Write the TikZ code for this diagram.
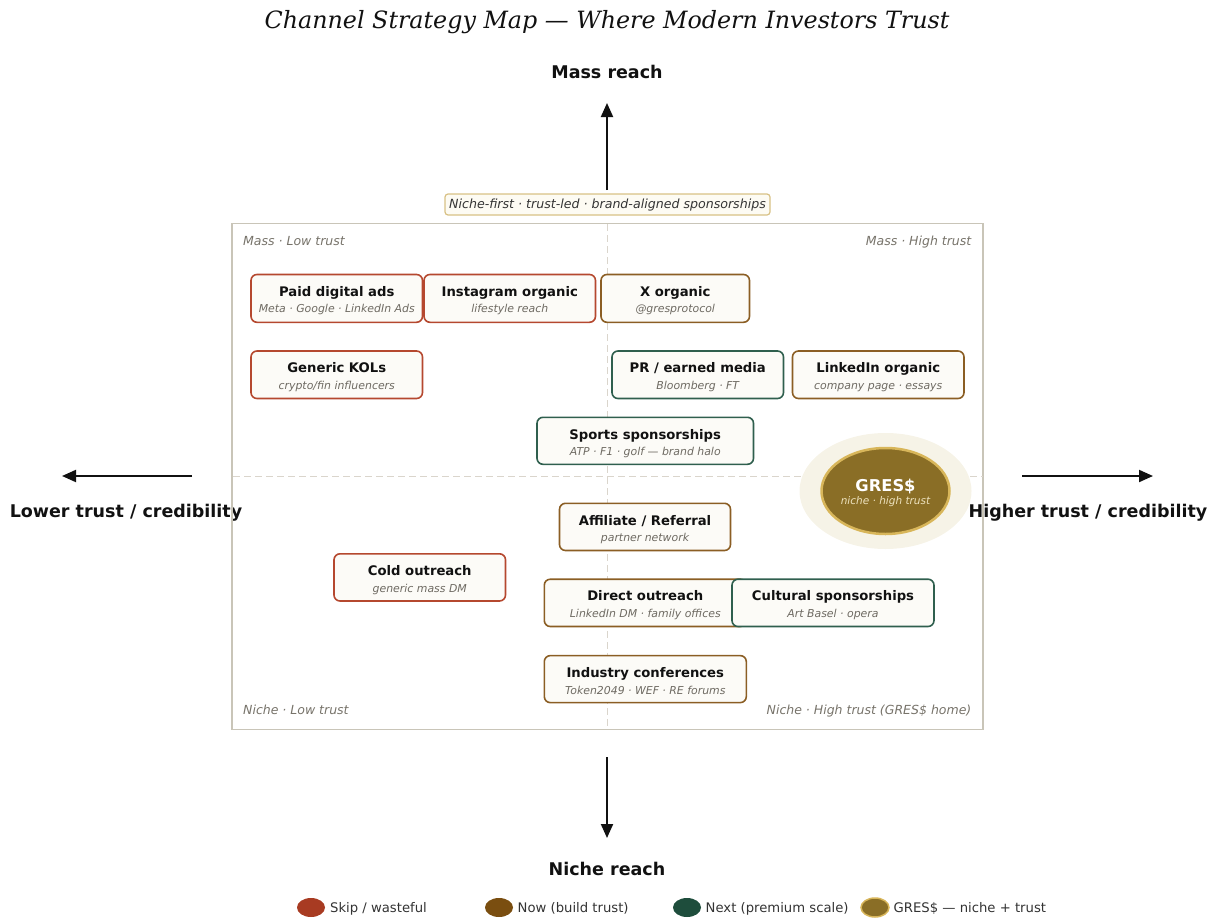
\documentclass[tikz,border=0pt]{standalone}
\usepackage{fontspec}
\setmainfont{DejaVu Sans}
\newfontfamily\titleserif{DejaVu Serif}
\usetikzlibrary{arrows.meta,shapes.geometric}

\definecolor{ink}{HTML}{111111}
\definecolor{subgray}{HTML}{6E6A62}
\definecolor{cornergray}{HTML}{77736A}
\definecolor{framec}{HTML}{C9C5B8}
\definecolor{gridline}{HTML}{DAD5CC}
\definecolor{boxfill}{HTML}{FCFBF7}
\definecolor{skipline}{HTML}{B5482F}
\definecolor{nowline}{HTML}{8B5E24}
\definecolor{nextline}{HTML}{2F5F4E}
\definecolor{skipdot}{HTML}{A83B22}
\definecolor{nowdot}{HTML}{7A4E10}
\definecolor{nextdot}{HTML}{1E4D3C}
\definecolor{gresfill}{HTML}{8A6E26}
\definecolor{gresrim}{HTML}{D8B65A}
\definecolor{gressub}{HTML}{EDE2BE}
\definecolor{halo}{HTML}{F6F3E7}
\definecolor{tagline}{HTML}{D8C185}
\definecolor{tagfill}{HTML}{FDFBF3}
\definecolor{legtext}{HTML}{333333}

\tikzset{
  chanbox/.style={draw, line width=1.6pt, fill=boxfill, rounded corners=6pt, inner sep=0pt},
  chantitle/.style={anchor=base, inner sep=0pt, font=\fontsize{13.2}{15}\selectfont\bfseries, text=ink},
  chansub/.style={anchor=base, inner sep=0pt, font=\fontsize{10.9}{13}\selectfont\itshape, text=subgray},
  axisarrow/.style={-{Triangle[length=14pt,width=12pt]}, line width=2pt, draw=ink},
  axislabel/.style={anchor=base, inner sep=0pt, font=\fontsize{17.5}{20}\selectfont\bfseries, text=ink},
  corner/.style={inner sep=0pt, font=\fontsize{12.5}{15}\selectfont\itshape, text=cornergray},
  gridrule/.style={draw=gridline, line width=1pt, dash pattern=on 7pt off 4pt},
  legdot/.style={ellipse, minimum width=28pt, minimum height=19pt, inner sep=0pt},
  legtxt/.style={anchor=base west, inner sep=0pt, font=\fontsize{13.2}{15}\selectfont, text=legtext},
}

% channel card: name, x1, y1, x2, y2, border colour, title, subtitle
\newcommand\chan[8]{%
  \pgfmathsetmacro\chanx{(#2+#4)/2}%
  \pgfmathsetmacro\chany{(#3+#5)/2}%
  \pgfmathsetmacro\chanw{#4-#2}%
  \pgfmathsetmacro\chanh{#5-#3}%
  \node[chanbox, draw=#6, minimum width=\chanw pt, minimum height=\chanh pt] (#1) at (\chanx,\chany) {};
  \node[chantitle] (#1-t) at (\chanx,{#3+21.7}) {#7};
  \node[chansub] (#1-s) at (\chanx,{#3+38.4}) {#8};
}

\begin{document}
\begin{tikzpicture}[x=1pt,y=-1pt]
\useasboundingbox (0,0) rectangle (1216,918);

% title
\node[anchor=base, inner sep=0pt, font=\titleserif\itshape\fontsize{23.8}{27}\selectfont, text=ink]
  (title) at (607,28) {Channel Strategy Map — Where Modern Investors Trust};

% axis labels and arrows
\node[axislabel] (mass) at (607,78) {Mass reach};
\node[axislabel] (niche) at (607,875) {Niche reach};
\node[axislabel] (lower) at (126,517.7) {Lower trust / credibility};
\node[axislabel] (higher) at (1088,517.7) {Higher trust / credibility};

\coordinate (upS) at (607,190);   \coordinate (upE) at (607,103);
\coordinate (dnS) at (607,757);   \coordinate (dnE) at (607,838);
\coordinate (lfS) at (192,476);   \coordinate (lfE) at (62,476);
\coordinate (rtS) at (1022,476);  \coordinate (rtE) at (1153,476);
\draw[axisarrow] (upS) -- (upE);
\draw[axisarrow] (dnS) -- (dnE);
\draw[axisarrow] (lfS) -- (lfE);
\draw[axisarrow] (rtS) -- (rtE);

% strategy tag
\node[draw=tagline, fill=tagfill, line width=1.2pt, rounded corners=3pt, minimum width=325pt,
      minimum height=21pt, inner sep=0pt] (tag) at (607.5,204.5) {};
\node[anchor=base, inner sep=0pt, font=\fontsize{12.6}{14}\selectfont\itshape, text=ink!85]
  (tag-t) at (607.5,208.6) {Niche-first · trust-led · brand-aligned sponsorships};

% quadrant frame and dividers
\node[draw=framec, line width=1.6pt, minimum width=751pt, minimum height=506pt, inner sep=0pt]
  (frame) at (607.5,476.5) {};
\coordinate (vT) at (607.5,224); \coordinate (vB) at (607.5,729);
\coordinate (hL) at (233,476);   \coordinate (hR) at (983,476);
\draw[gridrule] (vT) -- (vB);
\draw[gridrule] (hL) -- (hR);

% quadrant captions
\node[corner, anchor=base west] (ql) at (243,245) {Mass · Low trust};
\node[corner, anchor=base east] (qr) at (971.5,245) {Mass · High trust};
\node[corner, anchor=base west] (bl) at (243,714) {Niche · Low trust};
\node[corner, anchor=base east] (br) at (971.5,714) {Niche · High trust (GRES\$ home)};

% GRES$ marker
\node[ellipse, fill=halo, minimum width=172pt, minimum height=116pt, inner sep=0pt] (gresHalo) at (885.5,491) {};
\node[ellipse, fill=gresfill, draw=gresrim, line width=2.5pt, minimum width=128pt, minimum height=86pt, inner sep=0pt]
  (gres) at (885.5,491) {};
\node[anchor=base, inner sep=0pt, font=\fontsize{16.3}{18}\selectfont\bfseries, text=white] (gres-t) at (885.5,491.5) {GRES\$};
\node[anchor=base, inner sep=0pt, font=\fontsize{10.5}{12}\selectfont\itshape, text=gressub] (gres-s) at (885.5,504.5) {niche · high trust};

% channel cards
\chan{paid}{251}{274.5}{422.5}{322.3}{skipline}{Paid digital ads}{Meta · Google · LinkedIn Ads}
\chan{insta}{424}{274.5}{595.5}{322.3}{skipline}{Instagram organic}{lifestyle reach}
\chan{xorg}{601}{274.5}{749.5}{322.3}{nowline}{X organic}{@gresprotocol}
\chan{kols}{251}{351}{422.5}{398.5}{skipline}{Generic KOLs}{crypto/fin influencers}
\chan{pr}{612}{351}{783.5}{398.5}{nextline}{PR / earned media}{Bloomberg · FT}
\chan{linkedin}{792.5}{351}{964}{398.5}{nowline}{LinkedIn organic}{company page · essays}
\chan{sports}{537}{417.3}{753.5}{464.3}{nextline}{Sports sponsorships}{ATP · F1 · golf — brand halo}
\chan{affil}{559.5}{503.3}{730.5}{550.5}{nowline}{Affiliate / Referral}{partner network}
\chan{cold}{334}{553.8}{505.5}{601}{skipline}{Cold outreach}{generic mass DM}
\chan{direct}{544.3}{579.2}{746.3}{626.5}{nowline}{Direct outreach}{LinkedIn DM · family offices}
\chan{cultural}{732}{579.2}{934}{626.5}{nextline}{Cultural sponsorships}{Art Basel · opera}
\chan{conf}{544.3}{655.6}{746.3}{702.6}{nowline}{Industry conferences}{Token2049 · WEF · RE forums}

% legend
\node[legdot, fill=skipdot] (lg1) at (311,907.5) {};
\node[legtxt] (lg1-t) at (330,912.5) {Skip / wasteful};
\node[legdot, fill=nowdot] (lg2) at (499,907.5) {};
\node[legtxt] (lg2-t) at (517.5,912.5) {Now (build trust)};
\node[legdot, fill=nextdot] (lg3) at (687,907.5) {};
\node[legtxt] (lg3-t) at (705.5,912.5) {Next (premium scale)};
\node[legdot, fill=gresfill, draw=gresrim, line width=1.5pt] (lg4) at (875,907.5) {};
\node[legtxt] (lg4-t) at (893.5,912.5) {GRES\$ — niche + trust};
\end{tikzpicture}
\end{document}
